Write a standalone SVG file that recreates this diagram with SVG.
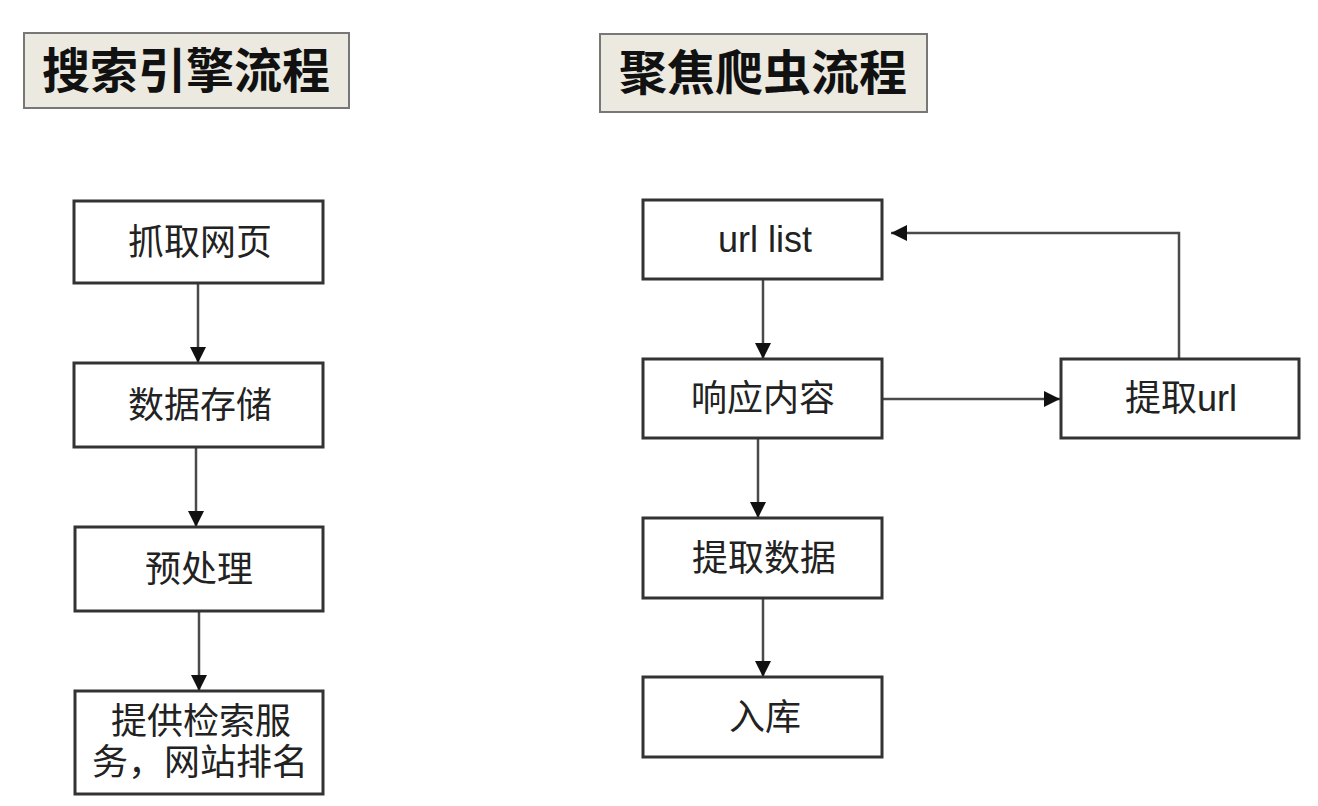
<svg xmlns="http://www.w3.org/2000/svg" width="1318" height="806" viewBox="0 0 1318 806">
<defs>
<style>
.title{fill:#ECEAE0;stroke:#777;stroke-width:2}
.tt{font-family:"Liberation Sans","Noto Sans CJK SC",sans-serif;font-size:48px;font-weight:bold;fill:#111;text-anchor:middle}
.box{fill:#fff;stroke:#333;stroke-width:3}
.t{font-family:"Liberation Sans","Noto Sans CJK SC",sans-serif;font-size:36px;fill:#222;text-anchor:middle}
.c{fill:none;stroke:#4a4a4a;stroke-width:2.5}
</style>
<marker id="ah" markerUnits="userSpaceOnUse" markerWidth="18" markerHeight="18" refX="16" refY="8" orient="auto">
<path d="M0,0 L16,8 L0,16 z" fill="#111"/>
</marker>
</defs>
<rect width="1318" height="806" fill="#fff"/>
<g id="title1"><rect class="title" x="24" y="33" width="325" height="75"/><text class="tt" x="186" y="88">搜索引擎流程</text></g>
<g id="title2"><rect class="title" x="600" y="34" width="327" height="78"/><text class="tt" x="763" y="90">聚焦爬虫流程</text></g>
<g id="connectors">
<line class="c" x1="198" y1="284" x2="198" y2="363" marker-end="url(#ah)"/>
<line class="c" x1="196" y1="448" x2="196" y2="527" marker-end="url(#ah)"/>
<line class="c" x1="199" y1="612" x2="199" y2="691" marker-end="url(#ah)"/>
<line class="c" x1="763" y1="280" x2="763" y2="359" marker-end="url(#ah)"/>
<line class="c" x1="758" y1="439" x2="758" y2="518" marker-end="url(#ah)"/>
<line class="c" x1="763" y1="599" x2="763" y2="677" marker-end="url(#ah)"/>
<line class="c" x1="883" y1="399" x2="1060" y2="399" marker-end="url(#ah)"/>
<polyline class="c" points="1179,358 1179,233 891,233" marker-end="url(#ah)"/>
</g>
<g id="n1"><rect class="box" x="74" y="201" width="249" height="82"/><text class="t" x="200" y="255">抓取网页</text></g>
<g id="n2"><rect class="box" x="74" y="363" width="249" height="84"/><text class="t" x="200" y="418">数据存储</text></g>
<g id="n3"><rect class="box" x="75" y="527" width="248" height="84"/><text class="t" x="199" y="582">预处理</text></g>
<g id="n4"><rect class="box" x="75" y="691" width="248" height="103"/><text class="t" x="201" y="734">提供检索服</text><text class="t" x="200" y="775">务，网站排名</text></g>
<g id="r1"><rect class="box" x="643" y="200" width="239" height="79"/><text class="t" x="765" y="252">url list</text></g>
<g id="r2"><rect class="box" x="643" y="359" width="239" height="79"/><text class="t" x="763" y="411">响应内容</text></g>
<g id="r3"><rect class="box" x="1061" y="359" width="238" height="79"/><text class="t" x="1181" y="411">提取url</text></g>
<g id="r4"><rect class="box" x="643" y="518" width="239" height="80"/><text class="t" x="764" y="571">提取数据</text></g>
<g id="r5"><rect class="box" x="643" y="677" width="239" height="80"/><text class="t" x="765" y="730">入库</text></g>
</svg>
